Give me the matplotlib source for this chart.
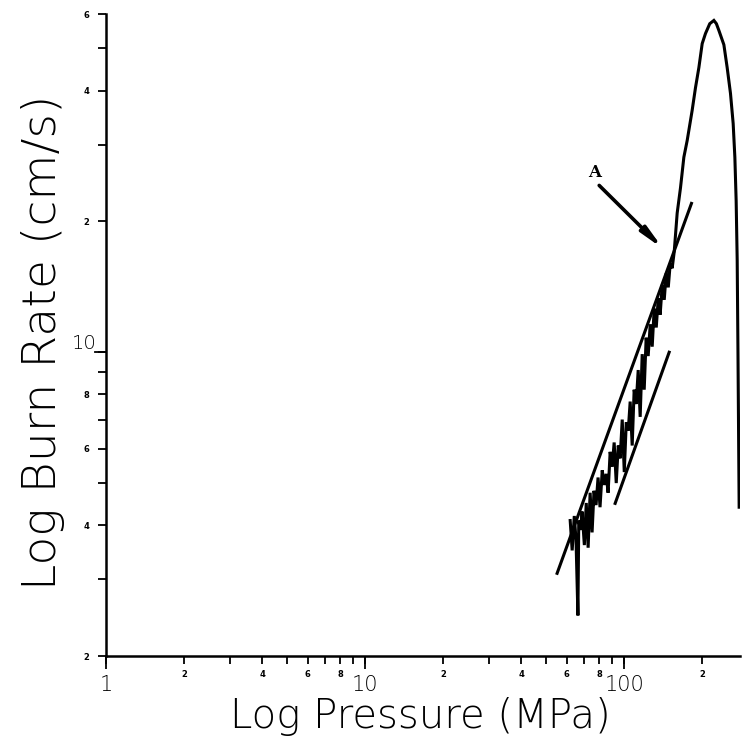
import matplotlib
matplotlib.use("Agg")
import matplotlib.pyplot as plt
from matplotlib.ticker import FixedLocator, FixedFormatter

# measured burn rate trace (pressure MPa, burn rate cm/s)
pressure = [61.9, 63.0, 64.2, 65.2, 66.3, 66.8, 67.9, 68.8, 70.2, 71.4, 72.6,
            73.9, 75.2, 76.5, 77.9, 79.3, 80.7, 82.3, 83.7, 85.2, 86.7, 88.3,
            89.9, 91.5, 93.2, 94.9, 96.5, 98.3, 100.1, 101.9, 103.7, 105.5,
            107.4, 109.3, 111.3, 113.3, 115.3, 117.4, 119.5, 121.6, 123.8,
            126.1, 128.3, 130.6, 133.0, 135.4, 137.7, 140.3, 142.8, 145.3,
            148.0, 150.6, 153.2, 156.0, 160.2, 165.0, 170.0, 175.1, 183.0,
            188.5, 194.3, 200.1, 206.0, 214.0, 222.0, 227.0, 232.1, 242.6,
            249.8, 257.3, 263.5, 267.5, 270.6, 273.1, 275.0, 277.9]
burn_rate = [4.10, 3.50, 4.20, 3.70, 2.48, 4.10, 3.90, 4.30, 3.60, 4.50, 3.55,
             4.75, 3.85, 4.80, 4.45, 5.15, 4.40, 5.35, 4.95, 5.25, 4.75, 5.90,
             5.45, 6.20, 5.00, 6.10, 5.70, 7.00, 5.30, 6.90, 6.60, 7.70, 6.10,
             8.20, 7.60, 9.10, 7.10, 9.90, 8.20, 10.8, 9.80, 11.6, 10.3, 12.6,
             11.4, 13.3, 12.2, 14.3, 13.2, 15.2, 14.1, 16.0, 15.6, 17.0, 20.9,
             23.9, 28.1, 30.7, 36.0, 40.6, 45.2, 51.3, 54.1, 57.0, 58.0, 57.0,
             55.0, 51.0, 45.2, 39.4, 33.6, 28.1, 22.3, 16.3, 10.0, 4.40]

# fitted straight lines
fit1_p = [55.1, 181.9]
fit1_r = [3.10, 22.0]
fit2_p = [92.3, 149.2]
fit2_r = [4.49, 10.0]

# annotation "A"
a_text = (76.6, 25.9)
a_tail = (80.1, 24.2)
a_tip = (141.4, 17.3)

x_ticks = [1, 2, 3, 4, 5, 6, 7, 8, 9, 10, 20, 30, 40, 50, 60, 70, 80, 90,
           100, 200]
x_small = ['', '2', '', '4', '', '6', '', '8', '', '', '2', '', '4', '', '6',
           '', '8', '', '', '2']
x_big = [1, 10, 100]
x_big_lab = ['1', '10', '100']

y_ticks = [2, 3, 4, 5, 6, 7, 8, 9, 10, 20, 30, 40, 50, 60]
y_small = ['2', '', '4', '', '6', '', '8', '', '', '2', '', '4', '', '6']

plt.rcParams['font.family'] = ['DejaVu Sans']

fig = plt.figure(figsize=(7.42, 7.46), dpi=100)
ax = fig.add_axes([0.1429, 0.1206, 0.8544, 0.8606])

ax.plot(pressure, burn_rate, color='black', lw=2.2, solid_joinstyle='miter')
ax.plot(fit1_p, fit1_r, color='black', lw=2.2)
ax.plot(fit2_p, fit2_r, color='black', lw=2.2)

ax.annotate('', xy=a_tip, xytext=a_tail,
            arrowprops=dict(arrowstyle='-|>,head_length=1.3,head_width=0.22',
                            color='black', lw=2.6, shrinkA=0, shrinkB=0))
ax.text(a_text[0], a_text[1], 'A', fontsize=12, fontweight='bold',
        family='DejaVu Serif', ha='center', va='center')

ax.set_xscale('log')
ax.set_yscale('log')
ax.set_xlim(1, 280)
ax.set_ylim(2, 60)

for s in ['top', 'right']:
    ax.spines[s].set_visible(False)
for s in ['left', 'bottom']:
    ax.spines[s].set_linewidth(1.8)

ax.xaxis.remove_overlapping_locs = False
ax.xaxis.set_major_locator(FixedLocator(x_ticks))
ax.xaxis.set_major_formatter(FixedFormatter(x_small))
ax.xaxis.set_minor_locator(FixedLocator(x_big))
ax.xaxis.set_minor_formatter(FixedFormatter(x_big_lab))
ax.tick_params(axis='x', which='major', direction='out', length=6, width=1.3,
               labelsize=6, pad=4)
ax.tick_params(axis='x', which='minor', direction='out', length=9, width=1.3,
               labelsize=15, pad=5)
for lab in ax.xaxis.get_majorticklabels():
    lab.set_fontweight('bold')
for lab in ax.xaxis.get_minorticklabels():
    lab.set_fontweight(200)

ax.yaxis.set_major_locator(FixedLocator(y_ticks))
ax.yaxis.set_major_formatter(FixedFormatter(y_small))
ax.yaxis.set_minor_locator(FixedLocator([]))
ax.tick_params(axis='y', which='major', direction='out', length=6, width=1.3,
               labelsize=6, pad=6)
for lab in ax.yaxis.get_majorticklabels():
    lab.set_fontweight('bold')
ax.plot([-0.018, 0], [10, 10], transform=ax.get_yaxis_transform(),
        color='black', lw=1.3, clip_on=False)
ax.text(-0.035, 10.5, '10', transform=ax.get_yaxis_transform(),
        fontsize=14, fontweight=200, ha='center', va='center')

fig.text(0.566, 0.040, 'Log Pressure (MPa)', fontsize=29, fontweight=200,
         ha='center', va='center')
fig.text(0.058, 0.541, 'Log Burn Rate (cm/s)', fontsize=34, fontweight=200,
         ha='center', va='center', rotation=90)

fig.savefig('out.png', dpi=100)
